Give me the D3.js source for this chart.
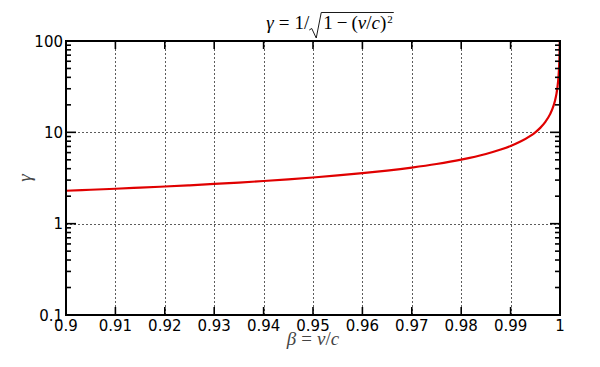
<!DOCTYPE html>
<html><head><meta charset="utf-8">
<script src="https://cdn.jsdelivr.net/npm/d3@7"></script>
<style>
html,body{margin:0;padding:0;background:#fff;}
svg{display:block;}
</style></head>
<body>
<svg id="chart" width="600" height="367"></svg>
<script>
// Data
const beta = [0.900,0.905,0.910,0.915,0.920,0.925,0.930,0.935,0.940,0.945,0.950,0.955,0.960,0.965,0.970,0.975,0.980,0.985,0.988,0.990,0.992,0.994,0.995,0.996,0.997,0.998,0.9985,0.999,0.9993,0.9995,0.9997,0.9998,0.9999,0.99995];
const gamma = [2.294,2.351,2.412,2.479,2.552,2.632,2.721,2.820,2.931,3.058,3.203,3.372,3.571,3.813,4.114,4.500,5.025,5.795,6.475,7.089,7.922,9.142,10.01,11.19,12.92,15.82,18.26,22.37,26.73,31.63,40.83,50.00,70.71,100.0];
const xTicks = [0.90,0.91,0.92,0.93,0.94,0.95,0.96,0.97,0.98,0.99,1.00];
const xTickLabels = ["0.9","0.91","0.92","0.93","0.94","0.95","0.96","0.97","0.98","0.99","1"];
const yTicks = [0.1,1,10,100];
const yTickLabels = ["0.1","1","10","100"];

const L = 66, R = 560, T = 41, B = 315;
const svg = d3.select("#chart");
const x = d3.scaleLinear().domain([0.9,1.0]).range([L,R]);
const y = d3.scaleLog().domain([0.1,100]).range([B,T]);

// grid
const grid = svg.append("g").attr("stroke","#000").attr("stroke-width",0.8).attr("stroke-dasharray","2,2").attr("opacity",0.8);
xTicks.slice(1,-1).forEach(v=>{
  grid.append("line").attr("x1",Math.round(x(v))+0.5).attr("x2",Math.round(x(v))+0.5).attr("y1",T).attr("y2",B);
});
yTicks.slice(1,-1).forEach(v=>{
  grid.append("line").attr("y1",Math.round(y(v))+0.5).attr("y2",Math.round(y(v))+0.5).attr("x1",L).attr("x2",R);
});

// curve
svg.append("clipPath").attr("id","clip").append("rect").attr("x",L).attr("y",T).attr("width",R-L).attr("height",B-T);
const pts = beta.map((b,i)=>[b,gamma[i]]);
svg.append("path").datum(pts)
  .attr("clip-path","url(#clip)")
  .attr("fill","none").attr("stroke","#e00000").attr("stroke-width",2.2)
  .attr("d", d3.line().x(d=>x(d[0])).y(d=>y(d[1])).curve(d3.curveMonotoneX));

// ticks
const tk = svg.append("g").attr("stroke","#000").attr("stroke-width",1.6);
xTicks.forEach(v=>{
  const px = x(v);
  tk.append("line").attr("x1",px).attr("x2",px).attr("y1",B).attr("y2",B-8);
  tk.append("line").attr("x1",px).attr("x2",px).attr("y1",T).attr("y2",T+8);
});
const minor = [];
for (let e=-1;e<2;e++) for (let m=2;m<10;m++) minor.push(m*Math.pow(10,e));
yTicks.forEach(v=>{
  const py = y(v);
  tk.append("line").attr("x1",L).attr("x2",L+10).attr("y1",py).attr("y2",py);
  tk.append("line").attr("x1",R).attr("x2",R-10).attr("y1",py).attr("y2",py);
});
minor.forEach(v=>{
  const py = y(v);
  tk.append("line").attr("x1",L).attr("x2",L+5).attr("y1",py).attr("y2",py);
  tk.append("line").attr("x1",R).attr("x2",R-5).attr("y1",py).attr("y2",py);
});

// frame
svg.append("rect").attr("x",L).attr("y",T).attr("width",R-L).attr("height",B-T)
  .attr("fill","none").attr("stroke","#000").attr("stroke-width",2);

// tick labels
const font = "DejaVu Sans, sans-serif";
xTicks.forEach((v,i)=>{
  svg.append("text").attr("x",x(v)).attr("y",B+16).attr("text-anchor","middle")
    .attr("font-family",font).attr("font-size",15).text(xTickLabels[i]);
});
yTicks.forEach((v,i)=>{
  svg.append("text").attr("x",L-3).attr("y",y(v)+5.5).attr("text-anchor","end")
    .attr("font-family",font).attr("font-size",15).text(yTickLabels[i]);
});

// title (mathtext style)
const serif = "Liberation Serif, DejaVu Serif, serif";
const title = svg.append("text").attr("y",29).attr("font-family",serif).attr("font-size",19);
title.append("tspan").attr("font-style","italic").text("γ");
title.append("tspan").attr("dx",5).text("=");
title.append("tspan").attr("dx",5).text("1/");
title.append("tspan").attr("dx",14).text("1");      // index 4: first under radical
title.append("tspan").attr("dx",4).text("−");
title.append("tspan").attr("dx",4).text("(");
title.append("tspan").attr("font-style","italic").text("v");
title.append("tspan").text("/");
title.append("tspan").attr("font-style","italic").text("c");
title.append("tspan").text(")");
title.append("tspan").attr("font-size",11).attr("dy",-6).attr("dx",1).text("2");
const tn = title.node();
const nChars = tn.getNumberOfChars();
const tw = tn.getComputedTextLength();
title.attr("x",(L+R)/2 - tw/2);
// radical sign with overline
const sx = tn.getStartPositionOfChar(4).x;
const ex = tn.getEndPositionOfChar(nChars-1).x;
svg.append("path")
  .attr("d", `M${sx-14},30 L${sx-11.5},28.5 L${sx-7},38 L${sx-2},12.5 L${ex+1},12.5`)
  .attr("fill","none").attr("stroke","#000").attr("stroke-width",0.9);

// x label
const xl = svg.append("text").attr("x",(L+R)/2).attr("y",345).attr("text-anchor","middle")
  .attr("font-family",serif).attr("font-size",19).attr("fill","#444");
xl.append("tspan").attr("font-style","italic").text("β");
xl.append("tspan").attr("dx",5).text("=");
xl.append("tspan").attr("dx",5).attr("font-style","italic").text("v");
xl.append("tspan").text("/");
xl.append("tspan").attr("font-style","italic").text("c");

// y label
svg.append("text").attr("transform","translate(31,178) rotate(-90)").attr("text-anchor","middle")
  .attr("font-family",serif).attr("font-size",19).attr("font-style","italic").attr("fill","#444").text("γ");
</script>
</body></html>
